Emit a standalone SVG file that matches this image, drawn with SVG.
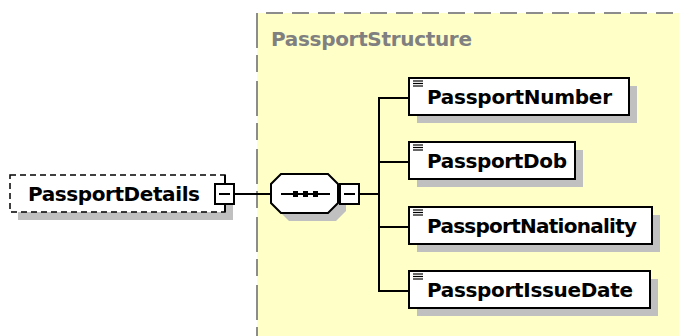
<svg xmlns="http://www.w3.org/2000/svg" width="679" height="336" viewBox="0 0 679 336">
<style>
.t{font-family:"DejaVu Sans","Liberation Sans",sans-serif;font-weight:bold;font-size:20px;fill:#000}
.title{font-family:"DejaVu Sans","Liberation Sans",sans-serif;font-weight:bold;font-size:20px;fill:#808080}
.box{fill:#fff;stroke:#000;stroke-width:2}
.sh{fill:#c0c0c0}
.ln{stroke:#000;stroke-width:2;fill:none}
.ic{stroke:#000;stroke-width:1.2}
</style>
<rect width="679" height="336" fill="#fff"/>
<g id="PassportStructure">
<rect x="257" y="13" width="430" height="330" fill="#ffffc8"/>
<line x1="257" y1="13" x2="679" y2="13" stroke="#8c8c8c" stroke-width="2" stroke-dasharray="17 9" stroke-dashoffset="17"/>
<line x1="257" y1="13" x2="257" y2="336" stroke="#8c8c8c" stroke-width="2" stroke-dasharray="35 7 17 9"/>
<text class="title" x="271" y="46" textLength="201">PassportStructure</text>
</g>
<g id="connectors">
<line class="ln" x1="234" y1="194" x2="271" y2="194"/>
<line class="ln" x1="359" y1="194" x2="379" y2="194"/>
<line class="ln" x1="379" y1="97" x2="379" y2="292"/>
<line class="ln" x1="378" y1="98" x2="409" y2="98"/>
<line class="ln" x1="378" y1="162" x2="409" y2="162"/>
<line class="ln" x1="378" y1="227" x2="409" y2="227"/>
<line class="ln" x1="378" y1="291" x2="409" y2="291"/>
</g>
<g id="PassportDetails">
<rect class="sh" x="18" y="183" width="215" height="37"/>
<rect x="10" y="175" width="215" height="37" fill="#fff" stroke="#000" stroke-width="1.5" stroke-dasharray="6 4"/>
<text class="t" x="28" y="201" textLength="172">PassportDetails</text>
<line class="ln" x1="225" y1="175" x2="225" y2="212"/>
<rect class="box" x="215" y="184" width="19" height="20"/>
<line class="ln" x1="219" y1="194" x2="230" y2="194"/>
</g>
<g id="sequence">
<polygon class="sh" points="289,182 336,182 346,192 346,211 336,221 289,221 279,211 279,192"/>
<polygon class="box" points="281,174 328,174 338,184 338,203 328,213 281,213 271,203 271,184"/>
<line class="ln" x1="281" y1="194" x2="330" y2="194"/>
<rect x="293" y="191" width="5" height="6" fill="#000"/>
<rect x="303" y="191" width="5" height="6" fill="#000"/>
<rect x="313" y="191" width="5" height="6" fill="#000"/>
<rect class="box" x="340" y="184" width="19" height="20"/>
<line class="ln" x1="344" y1="194" x2="355" y2="194"/>
</g>
<g id="PassportNumber">
<rect class="sh" x="417" y="86" width="220" height="37"/>
<rect class="box" x="409" y="78" width="220" height="37"/>
<g class="ic"><line x1="413" y1="81" x2="423" y2="81"/><line x1="413" y1="83.5" x2="423" y2="83.5"/><line x1="413" y1="86" x2="423" y2="86"/></g>
<text class="t" x="427" y="104" textLength="185">PassportNumber</text>
</g>
<g id="PassportDob">
<rect class="sh" x="417" y="150" width="166" height="37"/>
<rect class="box" x="409" y="142" width="166" height="37"/>
<g class="ic"><line x1="413" y1="145" x2="423" y2="145"/><line x1="413" y1="147.5" x2="423" y2="147.5"/><line x1="413" y1="150" x2="423" y2="150"/></g>
<text class="t" x="427" y="168" textLength="140">PassportDob</text>
</g>
<g id="PassportNationality">
<rect class="sh" x="417" y="215" width="243" height="37"/>
<rect class="box" x="409" y="207" width="243" height="37"/>
<g class="ic"><line x1="413" y1="210" x2="423" y2="210"/><line x1="413" y1="212.5" x2="423" y2="212.5"/><line x1="413" y1="215" x2="423" y2="215"/></g>
<text class="t" x="427" y="233" textLength="210">PassportNationality</text>
</g>
<g id="PassportIssueDate">
<rect class="sh" x="417" y="279" width="241" height="37"/>
<rect class="box" x="409" y="271" width="241" height="37"/>
<g class="ic"><line x1="413" y1="274" x2="423" y2="274"/><line x1="413" y1="276.5" x2="423" y2="276.5"/><line x1="413" y1="279" x2="423" y2="279"/></g>
<text class="t" x="427" y="297" textLength="206">PassportIssueDate</text>
</g>
</svg>
